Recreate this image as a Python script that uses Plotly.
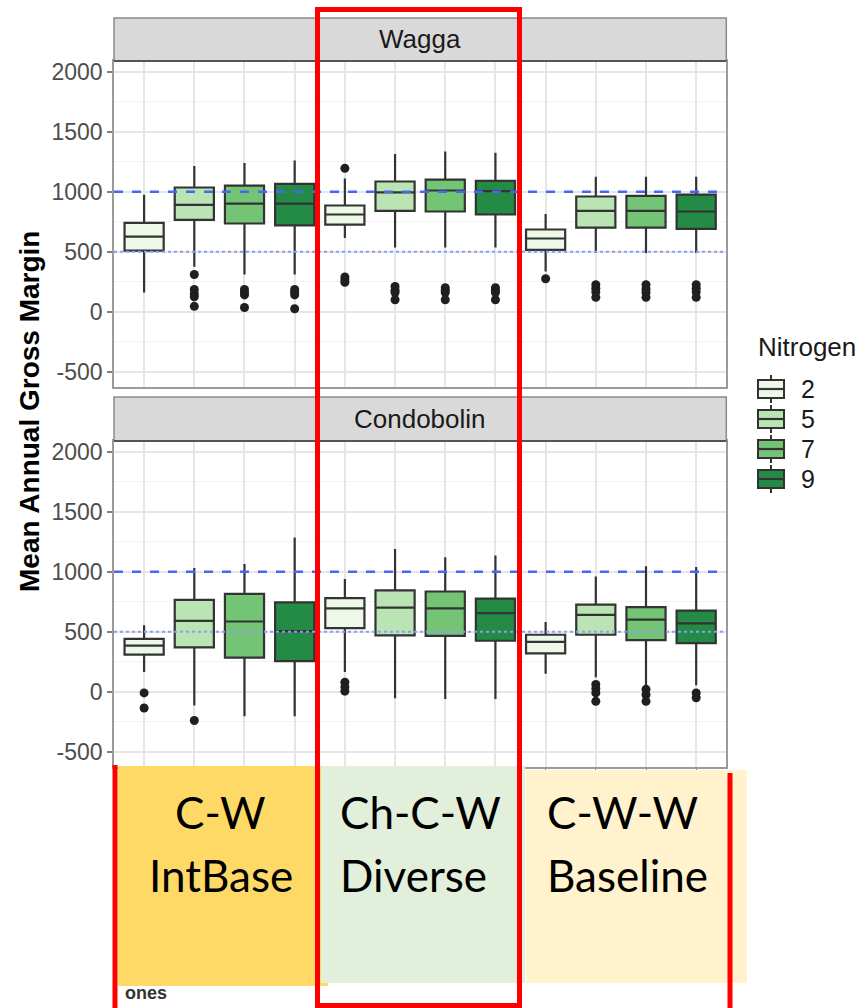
import plotly.graph_objects as go

W, H = 865, 1008

nitrogen_levels = ["2", "5", "7", "9"]
rotations = ["C-W IntBase", "Ch-C-W Diverse", "C-W-W Baseline"]
sites = ["Wagga", "Condobolin"]
fill_colors = ["#EDF8E9", "#BAE4B3", "#74C476", "#238B45"]

# order: rotation-major, nitrogen-minor (12 boxes per site)
wagga_upper = [975, 1215, 1240, 1260, 1110, 1315, 1335, 1325, 815, 1125, 1125, 1125]
wagga_q3 = [740, 1035, 1050, 1065, 885, 1085, 1100, 1090, 685, 960, 965, 975]
wagga_median = [625, 890, 900, 900, 810, 995, 1010, 1005, 610, 840, 840, 835]
wagga_q1 = [510, 765, 735, 720, 725, 840, 835, 810, 515, 700, 700, 690]
wagga_lower = [160, 375, 310, 310, 615, 535, 535, 535, 335, 490, 490, 490]
wagga_outliers = [[], [310, 185, 150, 125, 45], [185, 160, 140, 35], [185, 160, 140, 25],
                  [1195, 290, 265, 245], [210, 180, 160, 100], [200, 180, 160, 100], [200, 180, 160, 100],
                  [275], [225, 195, 165, 120], [225, 190, 160, 120], [225, 195, 165, 120]]

condo_upper = [555, 1030, 1065, 1285, 940, 1190, 1120, 1135, 580, 960, 1045, 1040]
condo_q3 = [440, 765, 815, 745, 780, 845, 835, 775, 475, 725, 705, 675]
condo_median = [385, 590, 585, 505, 695, 700, 695, 655, 415, 640, 600, 570]
condo_q1 = [310, 370, 285, 255, 530, 470, 465, 425, 320, 475, 430, 405]
condo_lower = [165, -115, -205, -205, 165, -55, -60, -60, 150, 120, 45, 55]
condo_outliers = [[-10, -135], [-240], [], [], [80, 40, 5], [], [], [],
                  [], [60, 25, -10, -80], [20, -25, -80], [-10, -50]]

ref_dashed = 1000
ref_dotted = 500
y_ticks = [-500, 0, 500, 1000, 1500, 2000]
y_tick_labels = ["-500", "0", "500", "1000", "1500", "2000"]


def px(x):
    return x / W


def py(y):
    return 1 - y / H


fig = go.Figure()

site_data = [
    (wagga_upper, wagga_q3, wagga_median, wagga_q1, wagga_lower, wagga_outliers, "x", "y"),
    (condo_upper, condo_q3, condo_median, condo_q1, condo_lower, condo_outliers, "x2", "y2"),
]

for si, (up, q3, med, q1, lo, outl, xa, ya) in enumerate(site_data):
    for k, lev in enumerate(nitrogen_levels):
        idx = [r * 4 + k for r in range(len(rotations))]
        fig.add_trace(go.Box(
            x=idx,
            q1=[q1[i] for i in idx], median=[med[i] for i in idx], q3=[q3[i] for i in idx],
            lowerfence=[lo[i] for i in idx], upperfence=[up[i] for i in idx],
            fillcolor=fill_colors[k], line=dict(color="#333333", width=2.2),
            whiskerwidth=0, width=0.78, boxpoints=False,
            name=lev, showlegend=False,
            xaxis=xa, yaxis=ya, hoverinfo="skip",
        ))
    ox, oy = [], []
    for i, pts in enumerate(outl):
        for v in pts:
            ox.append(i)
            oy.append(v)
    fig.add_trace(go.Scatter(x=ox, y=oy, mode="markers",
                             marker=dict(color="#1f1f1f", size=9),
                             showlegend=False, xaxis=xa, yaxis=ya, hoverinfo="skip"))

xdom = [px(114), px(726.3)]
yrange = [-627, 2089]
common_y = dict(range=yrange, tickvals=y_ticks, ticktext=y_tick_labels, ticks="outside", ticklen=5, tickwidth=1.5,
                tickcolor="#7f7f7f", tickfont=dict(size=23, color="#4D4D4D", family="Liberation Sans, Arial"),
                showline=True, mirror=True, linecolor="#9a9a9a", linewidth=1.5,
                showgrid=True, gridcolor="#E6E6E6", gridwidth=1.5, zeroline=False,
                minor=dict(dtick=250, showgrid=True, gridcolor="#F3F3F3", gridwidth=1))
common_x = dict(range=[-0.6, 11.6], tickvals=list(range(12)), showticklabels=False,
                showline=True, mirror=True, linecolor="#9a9a9a", linewidth=1.5,
                showgrid=True, gridcolor="#E6E6E6", gridwidth=1.5, zeroline=False)

fig.update_layout(
    width=W, height=H, autosize=False,
    margin=dict(l=0, r=0, t=0, b=0),
    paper_bgcolor="white", plot_bgcolor="white",
    boxmode="overlay", showlegend=False,
    xaxis=dict(domain=xdom, anchor="y", ticks="", **common_x),
    yaxis=dict(domain=[py(387), py(61)], anchor="x", automargin=False, **common_y),
    xaxis2=dict(domain=xdom, anchor="y2", ticks="outside", ticklen=5, tickcolor="#7f7f7f", **common_x),
    yaxis2=dict(domain=[py(767), py(441)], anchor="x2", automargin=False, **common_y),
    font=dict(family="Liberation Sans, Arial"),
)

shapes = []
annotations = []

# strips
for (top, bot, name) in [(18, 61, sites[0]), (397, 441, sites[1])]:
    shapes.append(dict(type="rect", xref="paper", yref="paper", x0=px(114), x1=px(726.3),
                       y0=py(bot), y1=py(top), fillcolor="#D9D9D9",
                       line=dict(color="#8a8a8a", width=1.5), layer="above"))
    shapes.append(dict(type="line", xref="paper", yref="paper", x0=px(114), x1=px(726.3),
                       y0=py(bot), y1=py(bot), line=dict(color="#555555", width=2), layer="above"))
    annotations.append(dict(text=name, xref="paper", yref="paper", x=px(420), y=py((top + bot) / 2),
                            showarrow=False, font=dict(size=26, color="#1a1a1a", family="Liberation Sans, Arial"),
                            xanchor="center", yanchor="middle"))

# reference lines
for ya in ["y", "y2"]:
    xd = "x domain" if ya == "y" else "x2 domain"
    shapes.append(dict(type="line", xref=xd, yref=ya, x0=0, x1=1, y0=ref_dashed, y1=ref_dashed,
                       line=dict(color="#4866F5", width=2.4, dash="dash"), layer="above"))
    shapes.append(dict(type="line", xref=xd, yref=ya, x0=0, x1=1, y0=ref_dotted, y1=ref_dotted,
                       line=dict(color="#8C9CF7", width=2, dash="dot"), layer="above"))

# manual legend
annotations.append(dict(text="Nitrogen", xref="paper", yref="paper", x=px(756), y=py(347), showarrow=False,
                        font=dict(size=26, color="#1a1a1a", family="Liberation Sans, Arial"),
                        xanchor="left", yanchor="middle"))
legend_y = [389, 419, 449, 479]
for k, lev in enumerate(nitrogen_levels):
    cy = legend_y[k]
    shapes.append(dict(type="line", xref="paper", yref="paper", x0=px(771), x1=px(771),
                       y0=py(cy + 14), y1=py(cy - 14), line=dict(color="#333333", width=2), layer="above"))
    shapes.append(dict(type="rect", xref="paper", yref="paper", x0=px(758), x1=px(784),
                       y0=py(cy + 9), y1=py(cy - 9), fillcolor=fill_colors[k],
                       line=dict(color="#333333", width=2), layer="above"))
    shapes.append(dict(type="line", xref="paper", yref="paper", x0=px(758), x1=px(784),
                       y0=py(cy), y1=py(cy), line=dict(color="#333333", width=2.2), layer="above"))
    annotations.append(dict(text=lev, xref="paper", yref="paper", x=px(799), y=py(cy), showarrow=False,
                            font=dict(size=25, color="#1a1a1a", family="Liberation Sans, Arial"),
                            xanchor="left", yanchor="middle"))

# rotation label boxes
shapes.append(dict(type="rect", xref="paper", yref="paper", x0=px(118), x1=px(328), y0=py(986), y1=py(766),
                   fillcolor="#FFD966", line=dict(width=0), layer="above"))
shapes.append(dict(type="rect", xref="paper", yref="paper", x0=px(321), x1=px(525), y0=py(983), y1=py(766),
                   fillcolor="#E2EFDA", line=dict(width=0), layer="above"))
shapes.append(dict(type="rect", xref="paper", yref="paper", x0=px(526), x1=px(747), y0=py(983), y1=py(770),
                   fillcolor="#FFF2CC", line=dict(width=0), layer="above"))

# red highlight lines
shapes.append(dict(type="rect", xref="paper", yref="paper", x0=px(317.5), x1=px(519.5), y0=py(1005.5), y1=py(9.5),
                   line=dict(color="#FF0000", width=5), fillcolor="rgba(0,0,0,0)", layer="above"))
shapes.append(dict(type="line", xref="paper", yref="paper", x0=px(115), x1=px(115), y0=py(1008), y1=py(765),
                   line=dict(color="#FF0000", width=5), layer="above"))
shapes.append(dict(type="line", xref="paper", yref="paper", x0=px(730), x1=px(730), y0=py(1008), y1=py(773),
                   line=dict(color="#FF0000", width=5), layer="above"))

big_font = dict(size=44, color="black", family="Lato, Open Sans, sans-serif")
rot_labels = [("C-W", "IntBase", 221, "center"), ("Ch-C-W", "Diverse", 338, "left"),
              ("C-W-W", "Baseline", 545, "left")]
for l1, l2, xc, anc in rot_labels:
    annotations.append(dict(text=l1, xref="paper", yref="paper", x=px(xc), y=py(812), showarrow=False,
                            font=big_font, xanchor=anc, yanchor="middle"))
    annotations.append(dict(text=l2, xref="paper", yref="paper", x=px(xc), y=py(875), showarrow=False,
                            font=big_font, xanchor=anc, yanchor="middle"))

# y-axis title
annotations.append(dict(text="<b>Mean Annual Gross Margin</b>", xref="paper", yref="paper",
                        x=px(29), y=py(412), textangle=-90, showarrow=False,
                        font=dict(size=28, color="black", family="Liberation Sans, Arial"),
                        xanchor="center", yanchor="middle"))
# cut-off fragment of x-axis title
annotations.append(dict(text="<b>ones</b>", xref="paper", yref="paper", x=px(146), y=py(993),
                        showarrow=False, font=dict(size=18, color="#333333", family="Liberation Sans, Arial"),
                        xanchor="center", yanchor="middle"))

fig.update_layout(shapes=shapes, annotations=annotations)
fig.write_html("out.html", config={"displayModeBar": False},
               post_script="document.body.style.margin='0';document.body.style.overflow='hidden';")
